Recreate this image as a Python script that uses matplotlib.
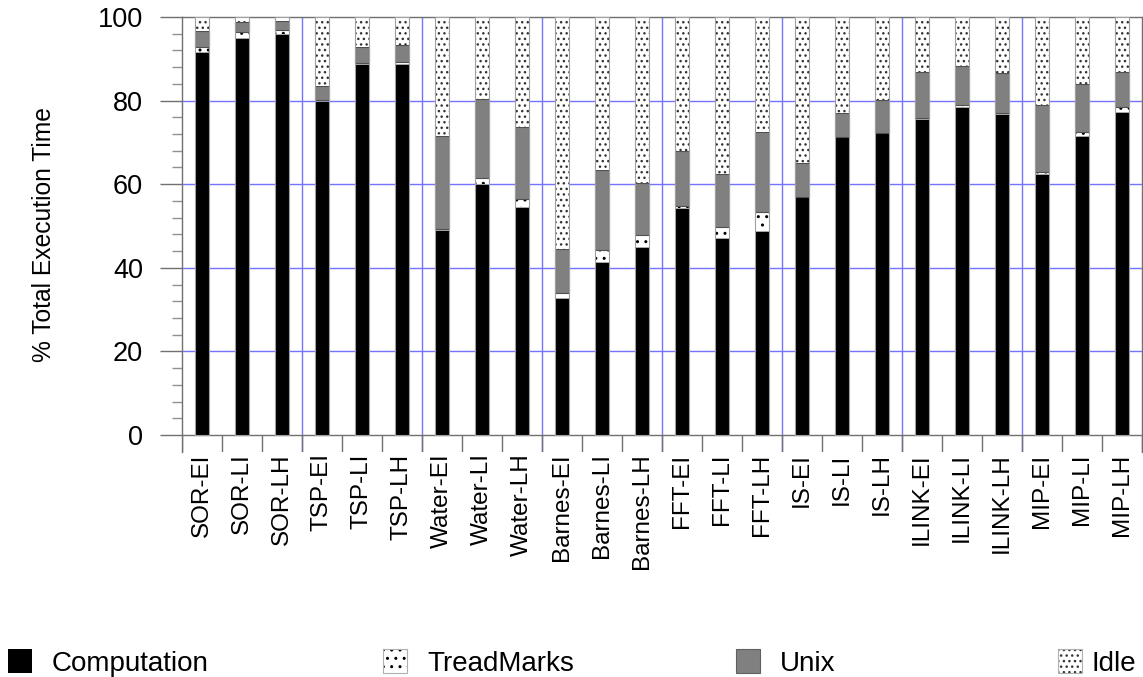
import numpy as np
import matplotlib
matplotlib.use("Agg")
import matplotlib.pyplot as plt
from matplotlib.patches import Rectangle

plt.rcParams["font.family"] = ["Liberation Sans", "DejaVu Sans"]
plt.rcParams["hatch.linewidth"] = 1.0

categories = [
    "SOR-EI", "SOR-LI", "SOR-LH", "TSP-EI", "TSP-LI", "TSP-LH",
    "Water-EI", "Water-LI", "Water-LH", "Barnes-EI", "Barnes-LI", "Barnes-LH",
    "FFT-EI", "FFT-LI", "FFT-LH", "IS-EI", "IS-LI", "IS-LH",
    "ILINK-EI", "ILINK-LI", "ILINK-LH", "MIP-EI", "MIP-LI", "MIP-LH",
]
computation = [91.7, 95.0, 96.0, 79.9, 88.7, 88.8, 49.0, 60.0, 54.6, 32.8, 41.5, 45.0,
               54.2, 47.2, 48.9, 57.0, 71.4, 72.3, 75.6, 78.5, 76.7, 62.4, 71.6, 77.3]
treadmarks = [1.1, 1.3, 0.9, 0.2, 0.4, 0.5, 0.4, 1.4, 1.8, 1.2, 2.8, 2.8,
              0.6, 2.6, 4.4, 0.0, 0.0, 0.0, 0.3, 0.4, 0.4, 0.6, 1.0, 1.2]
unix = [3.9, 2.5, 2.1, 3.4, 3.8, 3.9, 22.1, 19.0, 17.4, 10.5, 19.2, 12.6,
        13.1, 12.6, 19.3, 8.0, 5.7, 7.8, 11.0, 9.4, 9.4, 15.9, 11.3, 8.4]
idle = [3.3, 1.2, 1.0, 16.5, 7.1, 6.8, 28.5, 19.6, 26.2, 55.5, 36.5, 39.6,
        32.1, 37.6, 27.4, 35.0, 22.9, 19.9, 13.1, 11.7, 13.5, 21.1, 16.1, 13.1]
series_names = ["Computation", "TreadMarks", "Unix", "Idle"]
y_ticks = [0, 20, 40, 60, 80, 100]

BLUE = "#7373ff"
AXGRAY = "#707070"
W = 0.33

fig = plt.figure(figsize=(11.43, 6.77), dpi=100)
ax = fig.add_axes([182 / 1143, 1 - 452 / 677, 960 / 1143, 435 / 677])

x = np.arange(len(categories))
comp = np.array(computation)
tm = np.array(treadmarks)
ux = np.array(unix)
idl = np.array(idle)

# group separators and horizontal grid
for b in np.arange(2.5, len(categories) - 1, 3):
    ax.axvline(b, color=BLUE, lw=1.0, zorder=1)
for yv in y_ticks[1:-1]:
    ax.axhline(yv, color=BLUE, lw=1.0, zorder=1)
ax.axhline(0, color=AXGRAY, lw=1.0, zorder=1)
ax.vlines(np.arange(-0.5, len(categories)), -4.07, 0, color=AXGRAY, lw=1.0, zorder=1)

ax.bar(x, comp, W, color="black", edgecolor="#b0b0b0", lw=0.6, zorder=3)
ax.bar(x, tm, W, bottom=comp, color="white", edgecolor="black", hatch="..",
       lw=0, zorder=3)
ax.bar(x, ux, W, bottom=comp + tm, color="#808080", edgecolor="#505050",
       lw=0.8, zorder=3)
ax.bar(x, idl, W, bottom=comp + tm + ux, color="white", edgecolor="#333333",
       hatch="...", lw=0, zorder=3)
ax.bar(x, comp + tm + ux + idl, W, fill=False, edgecolor="#a0a0a0", lw=0.8, zorder=4)

ax.set_xlim(-0.5, len(categories) - 0.5)
ax.set_ylim(-4.07, 100)
ax.set_xticks(x)
ax.set_xticklabels(categories, rotation=90, fontsize=17.5, va="top")
ax.tick_params(axis="x", length=0, pad=1)
ax.set_yticks(y_ticks)
ax.set_yticklabels([str(v) for v in y_ticks], fontsize=19.5)
ax.set_yticks(np.arange(0, 101, 4), minor=True)
ax.tick_params(axis="y", which="major", length=16, width=1, color=AXGRAY, pad=12)
ax.tick_params(axis="y", which="minor", length=7.5, width=1, color="#909090")
ax.set_ylabel("% Total Execution Time", fontsize=17.7, labelpad=30)

ax.spines["bottom"].set_visible(False)
for s in ["left", "top", "right"]:
    ax.spines[s].set_color(AXGRAY)
    ax.spines[s].set_linewidth(1.0)

# legend along the bottom
leg_x = [8, 383, 736, 1058]
text_gap = [44, 44, 44, 34]
leg_style = [
    dict(facecolor="black", edgecolor="black", lw=0),
    dict(facecolor="white", edgecolor="black", hatch="..", lw=0),
    dict(facecolor="#808080", edgecolor="#606060", lw=0.8),
    dict(facecolor="white", edgecolor="#333333", hatch="...", lw=0),
]
for lx, gap, name, st in zip(leg_x, text_gap, series_names, leg_style):
    fig.add_artist(Rectangle((lx / 1143, 1 - 673 / 677), 24 / 1143, 24 / 677,
                             transform=fig.transFigure, **st))
    if st.get("hatch"):
        fig.add_artist(Rectangle((lx / 1143, 1 - 673 / 677), 24 / 1143, 24 / 677,
                                 transform=fig.transFigure, fill=False,
                                 edgecolor="#b0b0b0", lw=0.8))
    fig.text((lx + gap) / 1143, 1 - 671 / 677, name, fontsize=20,
             ha="left", va="baseline")

fig.savefig("out.png", dpi=100)
